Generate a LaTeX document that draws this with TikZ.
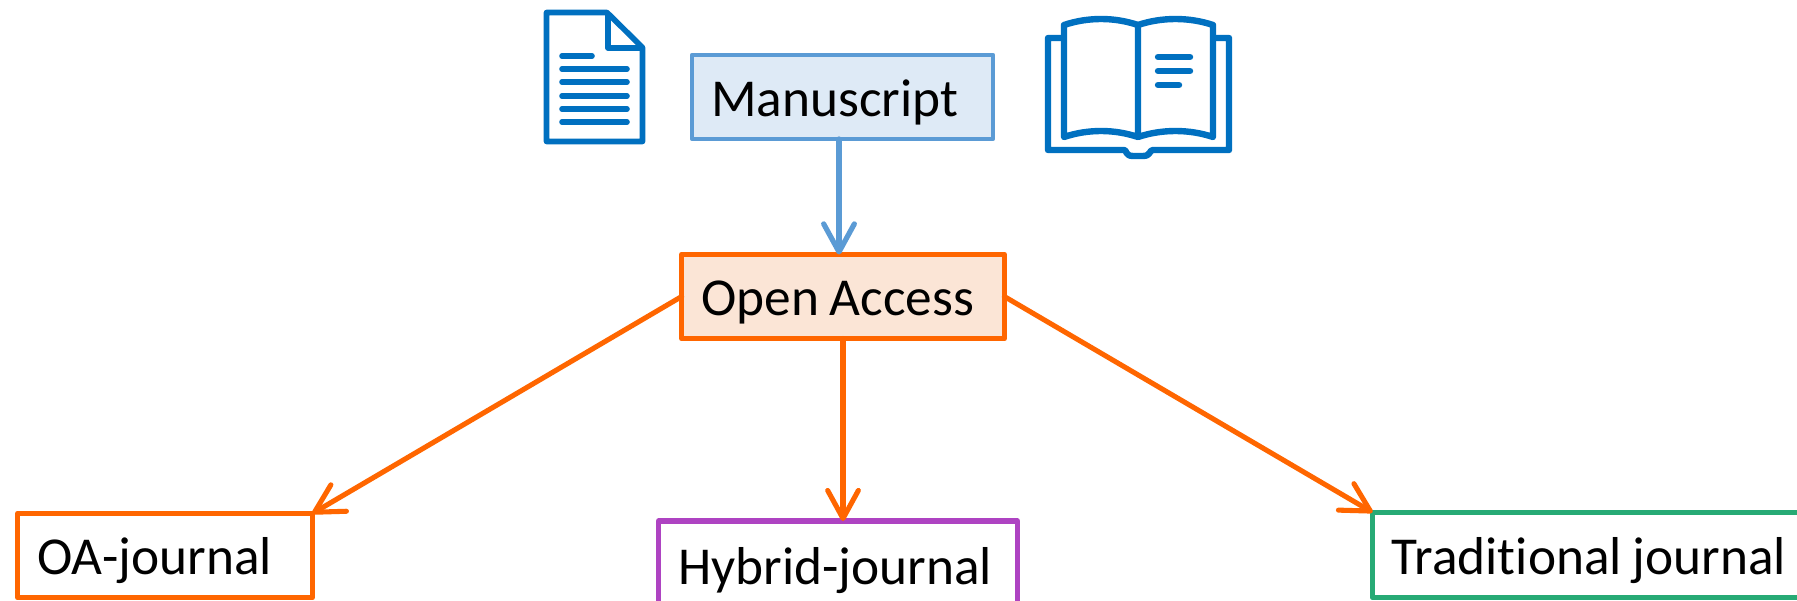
\documentclass[tikz,border=0pt]{standalone}
\usepackage{fontspec}
\setmainfont[RawFeature={-liga}]{Carlito}
\usetikzlibrary{arrows.meta}
\definecolor{mblue}{HTML}{5B9BD5}
\definecolor{mfill}{HTML}{DEEAF6}
\definecolor{morange}{HTML}{FF6600}
\definecolor{ofill}{HTML}{FBE5D6}
\definecolor{mpurple}{HTML}{AE43C2}
\definecolor{mgreen}{HTML}{27AA75}
\definecolor{icon}{HTML}{0070C0}
\tikzset{
  x=0.75pt,y=-0.75pt,
  jbox/.style={draw,rectangle,outer sep=0pt,inner ysep=0pt,inner xsep=14.6pt,align=left,
    font=\fontsize{40pt}{40pt}\selectfont,execute at begin node={\spaceskip=8.2pt\relax},text height=31.5pt,text depth=3pt,line join=round},
  barb/.style={-{Straight Barb[length=21pt,width=23pt,round]},line cap=round},
  oarrow/.style={barb,draw=morange,line width=3.8pt},
  icondraw/.style={draw=icon,line width=4.2pt,line join=round},
  iconline/.style={draw=icon,line width=4.2pt,line cap=round},
}
\begin{document}
\begin{tikzpicture}
\clip (0,0) rectangle (1797,600);
\fill[white] (0,0) rectangle (1797,600);

% boxes
\node[jbox,draw=mblue,fill=mfill,line width=3pt,minimum width=226pt,minimum height=63pt,text width=196.8pt] (ms) at (842.5,97) {Manuscript};
\node[jbox,draw=morange,fill=ofill,line width=4.2pt,minimum width=242pt,minimum height=63pt,text width=212.8pt] (oa) at (843,296.5) {Open Access};
\node[jbox,draw=morange,line width=4.2pt,minimum width=221pt,minimum height=63pt,text width=191.8pt] (oaj) at (165,555.5) {OA-journal};
\node[jbox,draw=mpurple,line width=4.2pt,minimum width=269pt,minimum height=66pt,text width=239.8pt] (hj) at (838,565) {Hybrid-journal};
\node[jbox,draw=mgreen,line width=4.2pt,minimum height=64pt,text width=340pt,anchor=west] (tj) at (1372.5,555) {Traditional journal};

% connectors
\draw[barb,draw=mblue,line width=3.9pt] (ms.south -| 839,0) -- (oa.north -| 839,0);
\draw[oarrow] (oa.west) -- (oaj.north east);
\draw[oarrow] (oa.south) -- (hj.north -| oa.south);
\draw[oarrow] (oa.east) -- (tj.north west);

% document icon
\draw[icondraw] (607,12.5) -- (546.5,12.5) -- (546.5,141.5) -- (642.5,141.5) -- (642.5,47.5) -- cycle;
\draw[icondraw] (608,12.5) -- (608,48) -- (642.5,48);
\draw[iconline] (562,56) -- (592,56);
\foreach \yy in {69,82,96,109,122} \draw[iconline] (562,\yy) -- (627,\yy);

% book icon
\draw[icondraw,line width=4.8pt] (1064,38) -- (1048,38) -- (1048,150) -- (1124,150)
  .. controls (1127,150) and (1125,156) .. (1133,156) -- (1143,156)
  .. controls (1151,156) and (1149,150) .. (1153,150) -- (1229,150) -- (1229,38) -- (1213,38);
\draw[icondraw,line width=4.8pt] (1138,25) .. controls (1114,17) and (1088,17) .. (1064,25) -- (1064,137)
  .. controls (1088,129) and (1114,129) .. (1138,137) -- cycle;
\draw[icondraw,line width=4.8pt] (1138,25) .. controls (1162,17) and (1189,17) .. (1213,25) -- (1213,137)
  .. controls (1189,129) and (1162,129) .. (1138,137);
\draw[iconline,line width=4.8pt] (1158,57) -- (1190,57);
\draw[iconline,line width=4.8pt] (1158,71) -- (1190,71);
\draw[iconline,line width=4.8pt] (1158,85) -- (1179,85);
\end{tikzpicture}
\end{document}
